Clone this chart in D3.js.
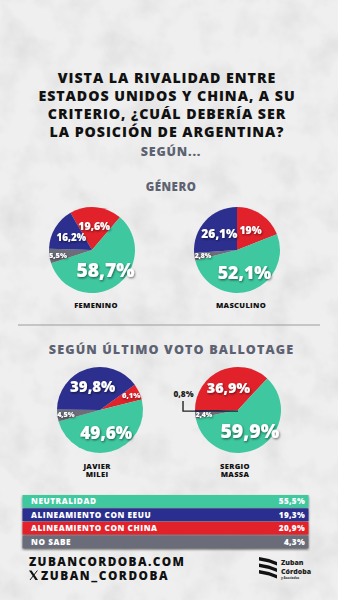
<!DOCTYPE html>
<html><head><meta charset="utf-8">
<script src="https://cdn.jsdelivr.net/npm/d3@7"></script>
<style>
html,body{margin:0;padding:0;background:#ececec;}
svg{display:block;}
text{font-family:"Open Sans","Inter",sans-serif;font-weight:800;}
</style></head>
<body>
<script>
// ---- DATA ----
const categories = ["NEUTRALIDAD","ALINEAMIENTO CON EEUU","ALINEAMIENTO CON CHINA","NO SABE"];
const totalValues = [55.5, 19.3, 20.9, 4.3];
const femenino  = [58.7, 16.2, 19.6, 5.5];
const masculino = [52.1, 26.1, 19.0, 2.8];
const milei     = [49.6, 39.8, 6.1, 4.5];
const massa     = [59.9, 0.8, 36.9, 2.4];
const pieNames = [["FEMENINO"],["MASCULINO"],["JAVIER","MILEI"],["SERGIO","MASSA"]];
const titleLines = ["VISTA LA RIVALIDAD ENTRE","ESTADOS UNIDOS Y CHINA, A SU","CRITERIO, ¿CUÁL DEBERÍA SER","LA POSICIÓN DE ARGENTINA?"];

const colors = ["#3fc89f","#2c2f8e","#e2222b","#6b6d79"];
const W = 338, H = 600;

const svg = d3.select("body").append("svg").attr("width",W).attr("height",H);
const defs = svg.append("defs");
// texture background
const tf = defs.append("filter").attr("id","tex").attr("x",0).attr("y",0).attr("width","100%").attr("height","100%");
tf.append("feTurbulence").attr("type","fractalNoise").attr("baseFrequency","0.03").attr("numOctaves",4).attr("seed",3).attr("result","n");
tf.append("feColorMatrix").attr("type","matrix")
  .attr("values","0 0 0 0 0.55  0 0 0 0 0.55  0 0 0 0 0.55  1.6 0 0 0 -0.7").attr("result","m");
tf.append("feComposite").attr("in","m").attr("in2","SourceGraphic").attr("operator","over");
svg.append("rect").attr("width",W).attr("height",H).attr("fill","#efefef");
svg.append("rect").attr("width",W).attr("height",H).attr("fill","#efefef").attr("filter","url(#tex)").attr("opacity",0.45);

const ds = defs.append("filter").attr("id","sh").attr("x","-20%").attr("y","-20%").attr("width","140%").attr("height","160%");
ds.append("feDropShadow").attr("dx",0.8).attr("dy",1.2).attr("stdDeviation",0.9).attr("flood-color","#000").attr("flood-opacity",0.55);
const ds2 = defs.append("filter").attr("id","sh2").attr("x","-5%").attr("y","-5%").attr("width","110%").attr("height","120%");
ds2.append("feDropShadow").attr("dx",0).attr("dy",1.5).attr("stdDeviation",1.2).attr("flood-color","#000").attr("flood-opacity",0.6);

// ---- TITLE ----
svg.append("g").selectAll("text").data(titleLines).join("text")
  .attr("x",167).attr("y",(d,i)=>82.5+i*18.2).attr("text-anchor","middle")
  .attr("font-size",14.2).attr("letter-spacing",0.95).attr("fill","#111").text(d=>d);
svg.append("text").attr("x",171).attr("y",155.5).attr("text-anchor","middle")
  .attr("font-size",12.5).attr("letter-spacing",0.8).attr("fill","#5d6272").text("SEGÚN...");
svg.append("text").attr("x",171).attr("y",191).attr("text-anchor","middle")
  .attr("font-size",11.5).attr("letter-spacing",0.5).attr("fill","#5d6272").text("GÉNERO");
svg.append("line").attr("x1",18).attr("x2",320).attr("y1",325).attr("y2",325)
  .attr("stroke","#9c9c9c").attr("stroke-width",1);
svg.append("text").attr("x",171.5).attr("y",353.5).attr("text-anchor","middle")
  .attr("font-size",12.6).attr("letter-spacing",1.1).attr("fill","#5d6272").text("SEGÚN ÚLTIMO VOTO BALLOTAGE");

// ---- PIES ----
// drawing order clockwise: China, Neutralidad, No sabe, EEUU
const order = [2,0,3,1];
const pies = [
  {vals:femenino, cx:92, cy:250, start:-30, nameY:308},
  {vals:masculino, cx:237, cy:250, start:0, nameY:308},
  {vals:milei, cx:100, cy:410, start:54, nameY:468.5},
  {vals:massa, cx:238, cy:410, start:-90, nameY:468.5}
];
const R = 43;
const fsScale = d3.scaleLinear().domain([0,60]).range([6.2,19.5]).clamp(true);
const toRad = d=>d*Math.PI/180;

pies.forEach((p,pi)=>{
  const g = svg.append("g").attr("transform",`translate(${p.cx},${p.cy})`);
  const data = order.map(i=>({cat:i, v:p.vals[i]}));
  const pie = d3.pie().sort(null).value(d=>d.v)
    .startAngle(toRad(p.start)).endAngle(toRad(p.start)+2*Math.PI);
  const arcs = pie(data);
  const arc = d3.arc().innerRadius(0).outerRadius(R);
  g.selectAll("path").data(arcs).join("path")
    .attr("d",arc).attr("fill",d=>colors[d.data.cat]);
  arcs.forEach(a=>{
    const v = a.data.v;
    const fmt = String(v).replace(".",",")+"%";
    if (v < 1.5) {
      // external label with leader line
      const mid = (a.startAngle+a.endAngle)/2;
      const ex = Math.sin(mid)*R, ey = -Math.cos(mid)*R;
      const lx = ex - 12;
      g.append("path").attr("d",`M${lx},${ey-10} L${lx},${ey} L0,${ey}`)
        .attr("fill","none").attr("stroke","#222").attr("stroke-width",1.4);
      g.append("text").attr("x",lx+0.5).attr("y",ey-14).attr("text-anchor","middle")
        .attr("font-size",8.3).attr("fill","#222").text(fmt);
      return;
    }
    const f = v < 8 ? 0.8 : 0.56;
    const la = d3.arc().innerRadius(R*f).outerRadius(R*f);
    const c = la.centroid(a);
    g.append("text").attr("x",c[0]).attr("y",c[1]).attr("dy","0.36em")
      .attr("text-anchor","middle").attr("font-size",fsScale(v))
      .attr("fill","#fff").attr("filter","url(#sh)").text(fmt);
  });
  svg.append("g").selectAll("text").data(pieNames[pi]).join("text")
    .attr("x",p.cx+ (pi<2?4:-3)).attr("y",(d,i)=>p.nameY+i*8.6).attr("text-anchor","middle")
    .attr("font-size",7.6).attr("letter-spacing",0.3).attr("fill","#111").text(d=>d);
});

// ---- LEGEND TABLE ----
const y = d3.scaleBand().domain(categories).range([495,548]).paddingInner(0.06);
const tg = svg.append("g").attr("filter","url(#sh2)");
tg.selectAll("rect").data(categories).join("rect")
  .attr("x",22.5).attr("width",286).attr("y",d=>y(d)).attr("height",y.bandwidth())
  .attr("fill",(d,i)=>colors[i]);
const lg = svg.append("g");
lg.selectAll("text.c").data(categories).join("text").attr("class","c")
  .attr("x",31).attr("y",d=>y(d)+y.bandwidth()/2).attr("dy","0.36em")
  .attr("font-size",8.2).attr("letter-spacing",0.55).attr("fill","#fff").text(d=>d);
lg.selectAll("text.v").data(totalValues).join("text").attr("class","v")
  .attr("x",305).attr("y",(d,i)=>y(categories[i])+y.bandwidth()/2).attr("dy","0.36em")
  .attr("text-anchor","end").attr("font-size",8.2).attr("letter-spacing",0.3).attr("fill","#fff")
  .text(d=>String(d).replace(".",",")+"%");

// ---- FOOTER ----
svg.append("text").attr("x",29).attr("y",565.5).attr("font-size",11.8).attr("letter-spacing",1.4).attr("fill","#111").text("ZUBANCORDOBA.COM");
// X logo
const xg = svg.append("g").attr("transform","translate(29,570.5)");
xg.append("path").attr("d","M0,0 L2.6,0 L9,9.5 L6.4,9.5 Z").attr("fill","#111");
xg.append("path").attr("d","M8.4,0 L1,9.5").attr("stroke","#111").attr("stroke-width",1);
svg.append("text").attr("x",41).attr("y",580).attr("font-size",11.8).attr("letter-spacing",1.55).attr("fill","#111").text("ZUBAN_CORDOBA");
// Zuban Córdoba logo
const lgo = svg.append("g").attr("transform","translate(259,557)");
[0,6.5,13].forEach(o=>{
  lgo.append("path").attr("d",`M0,${o} L10,${o+2} L18,${o+5} L18,${o+8.5} L10,${o+5.5} L0,${o+3.5} Z`).attr("fill","#111");
});
svg.append("text").attr("x",281).attr("y",565).attr("font-size",7).attr("font-weight",700).attr("fill","#222").text("Zuban");
svg.append("text").attr("x",281).attr("y",573.5).attr("font-size",7).attr("font-weight",700).attr("fill","#222").text("Córdoba");
svg.append("text").attr("x",281).attr("y",578.5).attr("font-size",3).attr("font-weight",600).attr("fill","#444").text("y Asociados");
</script>
</body></html>
